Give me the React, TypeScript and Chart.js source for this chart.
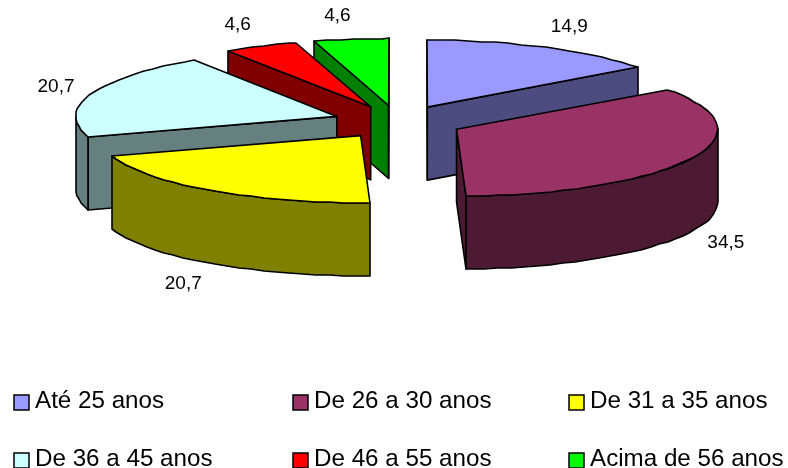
import { useEffect, useRef } from "react";
import { Chart, registerables } from "chart.js";

Chart.register(...registerables);

const categories = [
  "Até 25 anos",
  "De 26 a 30 anos",
  "De 31 a 35 anos",
  "De 36 a 45 anos",
  "De 46 a 55 anos",
  "Acima de 56 anos",
];
const shares = [14.9, 34.5, 20.7, 20.7, 4.6, 4.6];
const topColors = ["#9999FF", "#993366", "#FFFF00", "#CCFFFF", "#FF0000", "#00FF00"];
const sideColors = ["#4C4C80", "#4D1A33", "#808000", "#668080", "#800000", "#008000"];

const FONT = '"Liberation Sans", Arial, sans-serif';
const SQUASH = 67 / 261; // vertical foreshortening of the pie plane
const DEPTH = 73; // extrusion height in pixels
const STEP = (3 * Math.PI) / 180; // outline sampling along the rim

type Pt = [number, number];

const trace = (ctx: CanvasRenderingContext2D, pts: Pt[], fill: string) => {
  ctx.beginPath();
  pts.forEach(([x, y], i) => (i ? ctx.lineTo(x, y) : ctx.moveTo(x, y)));
  ctx.closePath();
  ctx.fillStyle = fill;
  ctx.fill();
  ctx.stroke();
};

// Draws each pie arc as an extruded, foreshortened wedge, furthest wedge first.
const extrudedPie = {
  id: "extrudedPie",
  beforeDatasetsDraw(chart: any) {
    const ctx: CanvasRenderingContext2D = chart.ctx;
    const arcs: any[] = chart.getDatasetMeta(0).data;
    const slices = arcs.map((arc, i) => {
      const mid = (arc.startAngle + arc.endAngle) / 2;
      const off = arc.options.offset;
      const ax = arc.x + Math.cos(mid) * off;
      const ay = arc.y + Math.sin(mid) * off * SQUASH;
      return { arc, i, mid, ax, ay };
    });
    slices.sort((a, b) => Math.sin(a.mid) - Math.sin(b.mid));

    ctx.save();
    ctx.strokeStyle = "#000";
    ctx.lineWidth = 1.6;
    ctx.lineJoin = "round";
    for (const { arc, i, mid, ax, ay } of slices) {
      const R = arc.outerRadius;
      const rim = (a: number): Pt => [
        Math.round(ax + Math.cos(a) * R),
        Math.round(ay + Math.sin(a) * R * SQUASH),
      ];
      const sweep = (from: number, to: number): Pt[] => {
        const pts: Pt[] = [];
        for (let a = from; a < to; a += STEP) pts.push(rim(a));
        pts.push(rim(to));
        return pts;
      };
      const m = rim(mid);
      // Flat cut faces, only when they turn toward the viewer.
      for (const edge of [arc.startAngle, arc.endAngle]) {
        const p = rim(edge);
        const dx = p[0] - ax;
        const dy = p[1] - ay;
        const cross = dx * (m[1] - ay) - dy * (m[0] - ax);
        if (Math.abs(dx) >= 1 && dx * cross > 0) continue;
        trace(ctx, [[ax, ay], p, [p[0], p[1] + DEPTH], [ax, ay + DEPTH]], sideColors[i]);
      }
      // Curved outer wall on the near half of the ellipse.
      const from = Math.max(arc.startAngle, 0);
      const to = Math.min(arc.endAngle, Math.PI);
      if (to > from) {
        const upper = sweep(from, to);
        const lower = upper.map(([x, y]) => [x, y + DEPTH] as Pt).reverse();
        trace(ctx, [...upper, ...lower], sideColors[i]);
      }
      // Top face.
      trace(ctx, [[ax, ay], ...sweep(arc.startAngle, arc.endAngle)], topColors[i]);
    }
    ctx.restore();
    return false;
  },
  afterDraw(chart: any) {
    const ctx: CanvasRenderingContext2D = chart.ctx;
    const arcs: any[] = chart.getDatasetMeta(0).data;
    ctx.save();
    ctx.fillStyle = "#000";

    // Value labels outside each wedge.
    ctx.font = `19px ${FONT}`;
    ctx.textAlign = "center";
    ctx.textBaseline = "middle";
    arcs.forEach((arc, i) => {
      const mid = (arc.startAngle + arc.endAngle) / 2;
      const off = arc.options.offset;
      const c = Math.cos(mid);
      const s = Math.sin(mid);
      const x = arc.x + c * off + c * arc.outerRadius + Math.sign(c) * 36 * Math.sqrt(Math.abs(c));
      const y =
        arc.y + 0.5 + s * off * SQUASH + s * arc.outerRadius * SQUASH * 1.36 + (s > 0 ? DEPTH : 0);
      ctx.fillText(shares[i].toFixed(1).replace(".", ","), x, y);
    });

    // Three-column legend below the pie.
    const columns = [14, 293, 569];
    const rows = [395, 453];
    ctx.font = `24.2px ${FONT}`;
    ctx.textAlign = "left";
    ctx.textBaseline = "alphabetic";
    categories.forEach((label, i) => {
      const x = columns[i % 3];
      const y = rows[Math.floor(i / 3)];
      ctx.fillStyle = topColors[i];
      ctx.strokeStyle = "#000";
      ctx.lineWidth = 1.5;
      ctx.fillRect(x, y, 15, 15);
      ctx.strokeRect(x, y, 15, 15);
      ctx.fillStyle = "#000";
      ctx.fillText(label, x + 21, y + 12.5);
    });
    ctx.restore();
  },
};

export default function App() {
  const ref = useRef<HTMLCanvasElement>(null);

  useEffect(() => {
    const chart = new Chart(ref.current!, {
      type: "pie",
      data: {
        labels: categories,
        datasets: [{ data: shares, backgroundColor: topColors, offset: 65 }],
      },
      options: {
        animation: false,
        responsive: false,
        radius: 261,
        layout: { padding: { left: 8, right: 0, top: 0, bottom: 224 } },
        plugins: { legend: { display: false }, tooltip: { enabled: false } },
      },
      plugins: [extrudedPie],
    } as any);
    return () => chart.destroy();
  }, []);

  return (
    <div style={{ position: "absolute", left: 0, top: 0, width: 788, height: 468, background: "#fff" }}>
      <canvas ref={ref} width={788} height={468} style={{ display: "block" }} />
    </div>
  );
}
